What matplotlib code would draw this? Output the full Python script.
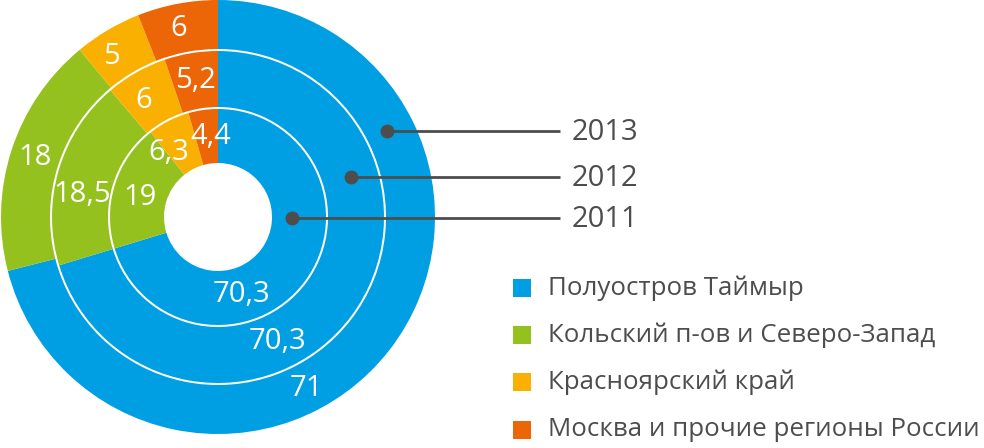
import numpy as np
import matplotlib.pyplot as plt
from matplotlib.patches import Rectangle

plt.rcParams['font.family'] = ['Open Sans', 'DejaVu Sans']

# shares by region, %, one list per year (outer ring = 2013)
regions = ['Полуостров Таймыр', 'Кольский п-ов и Северо-Запад',
           'Красноярский край', 'Москва и прочие регионы России']
years = ['2013', '2012', '2011']
share_2013 = [71, 18, 5, 6]
share_2012 = [70.3, 18.5, 6, 5.2]
share_2011 = [70.3, 19, 6.3, 4.4]
colors = ['#009fe3', '#95c11f', '#f9b000', '#ec6608']
text_gray = '#4d4d4d'

W, H = 984, 448
fig = plt.figure(figsize=(W / 100, H / 100), dpi=100)
ax = fig.add_axes([0, 0, 1, 1])

cx, cy = 218, H - 217
# ring edges in px: (outer, inner)
rings = [(217, 168), (166, 110), (108, 54)]
# label tweaks: angle shift (deg, ccw) per wedge, since labels were hand placed
shift = [[-25, 0, 3, 1], [-28, 7, 3, 0], [-37, 3, 10, -3]]

for vals, (r_out, r_in), sh in zip([share_2013, share_2012, share_2011], rings, shift):
    ax.pie(vals, radius=r_out, center=(cx, cy), startangle=90, counterclock=False,
           colors=colors, wedgeprops=dict(width=r_out - r_in, linewidth=0))
    tot = sum(vals)
    start = 90.0
    r_lab = (r_out + r_in) / 2
    for v, s in zip(vals, sh):
        span = 360 * v / tot
        mid = start - span / 2 + s
        start -= span
        x = cx + r_lab * np.cos(np.radians(mid))
        y = cy + r_lab * np.sin(np.radians(mid))
        ax.text(x, y, f'{v:g}'.replace('.', ','), color='white', fontsize=21,
                ha='center', va='center')

# year pointers
dots = [(387, 131), (351, 177), (292, 218)]
for yr, (dx, dy) in zip(years, dots):
    ax.plot([dx, 560], [H - dy, H - dy], color=text_gray, lw=2, solid_capstyle='butt')
    ax.plot(dx, H - dy, 'o', color=text_gray, ms=9)
    ax.text(572, H - dy - 1, yr, color=text_gray, fontsize=21, va='center', ha='left')

# legend
for i, (name, c) in enumerate(zip(regions, colors)):
    yc = H - (288 + 47.2 * i)
    ax.add_patch(Rectangle((513, yc - 9), 18, 18, color=c, lw=0))
    ax.text(548, yc, name, color=text_gray, fontsize=18.6, va='center', ha='left')

ax.set_xlim(0, W)
ax.set_ylim(0, H)
ax.set_aspect('equal')
ax.axis('off')

fig.savefig('out.png', dpi=100)
